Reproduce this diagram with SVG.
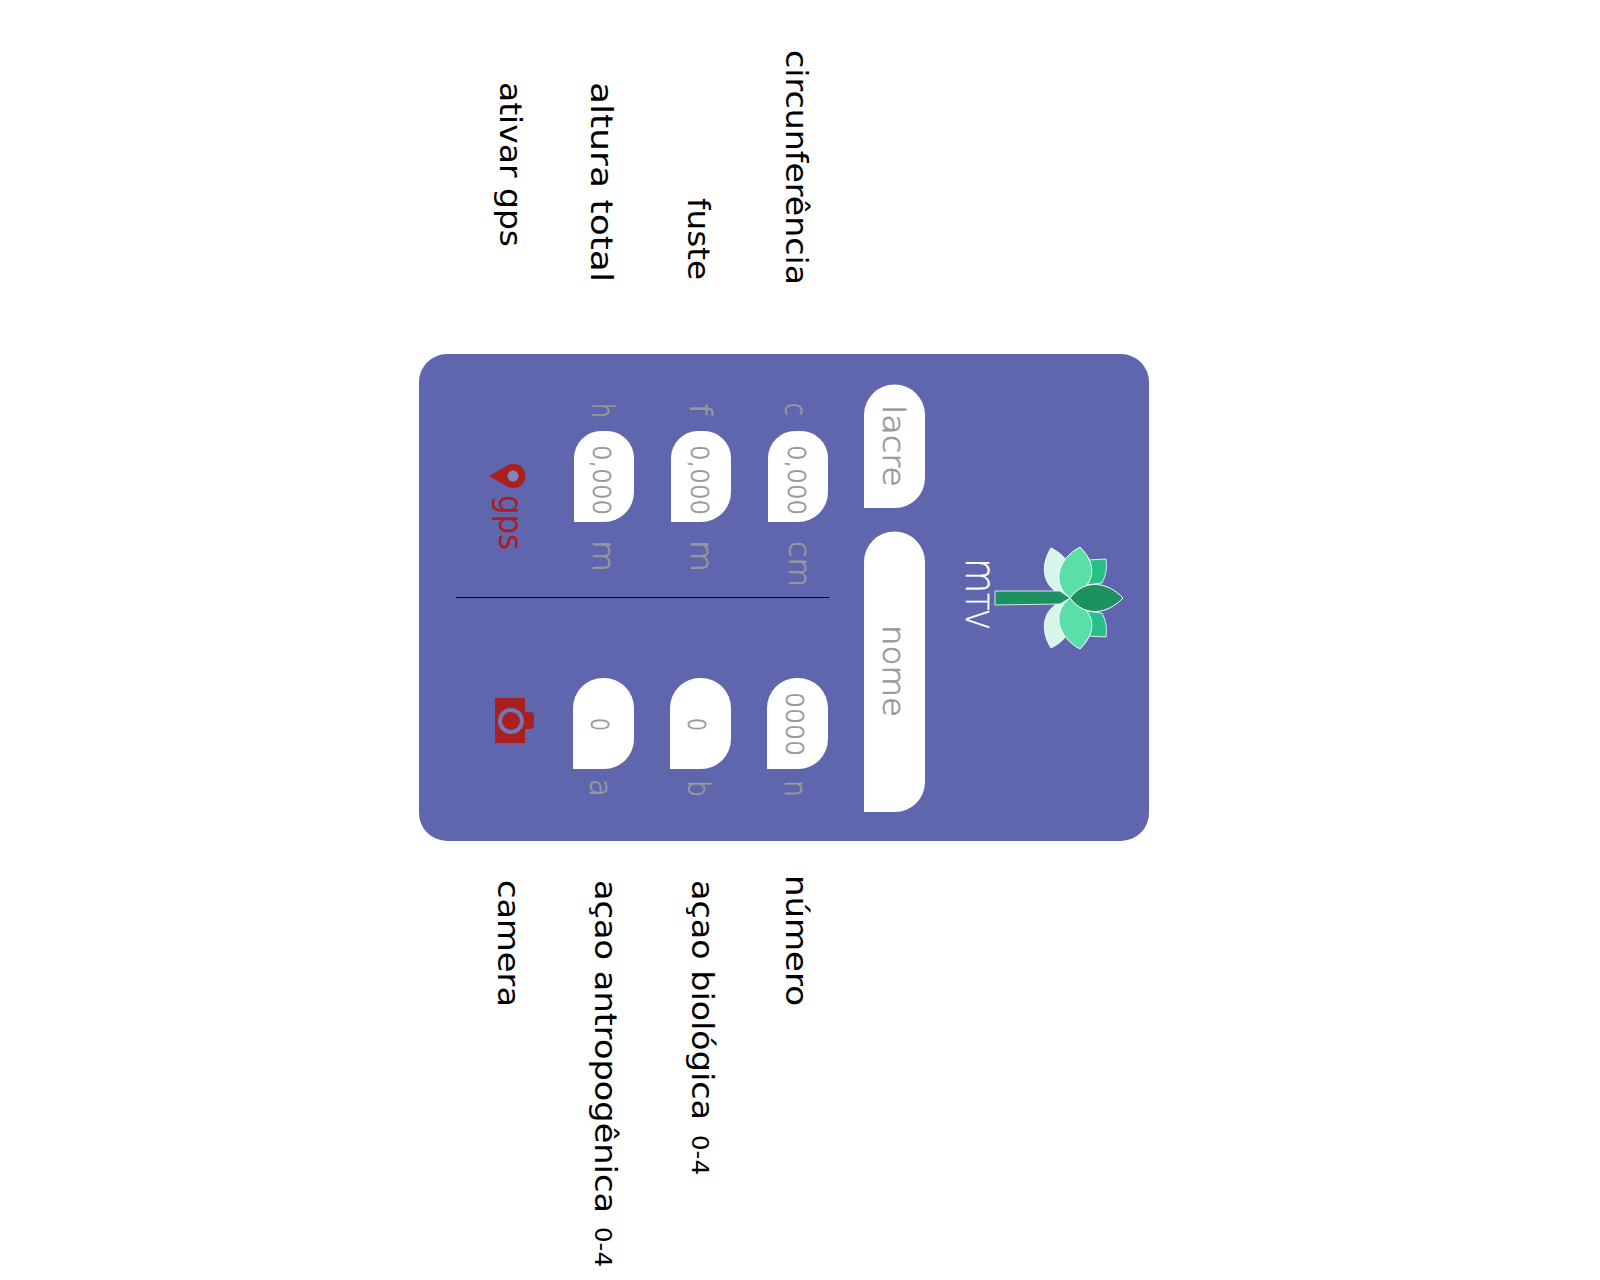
<svg xmlns="http://www.w3.org/2000/svg" width="1600" height="1280" viewBox="0 0 1600 1280">
<defs><style>
text{font-family:"DejaVu Sans","Noto Sans",sans-serif}
.lab{font-size:31px;fill:#000}
.sm{font-size:23px}
.g{font-size:30px;fill:#999;font-weight:200;stroke:#999;stroke-width:.7px}
.d{font-size:24px}
.box{fill:#fff}
</style></defs>
<rect width="1600" height="1280" fill="#fff"/>
<g id="card"><rect x="419" y="354" width="730" height="487" rx="28" fill="#5f66ae"/></g>
<g id="connectors"><line x1="456" y1="597.5" x2="829" y2="597.5" stroke="#000" stroke-width="1"/></g>
<g id="logo">
<path d="M1088 560 L1106 559 Q1108 572 1102 583 L1085 585Z" fill="#28c088" stroke="#fff" stroke-width=".8"/>
<path d="M1088 636 L1106 637 Q1108 624 1102 613 L1085 611Z" fill="#28c088" stroke="#fff" stroke-width=".8"/>
<path d="M1070 598 C1040 590 1040 565 1051 548 C1066 555 1078 570 1070 598Z" fill="#d8f5ea" stroke="#fff" stroke-width=".8"/>
<path d="M1070 598 C1040 606 1040 631 1051 648 C1066 641 1078 626 1070 598Z" fill="#d8f5ea" stroke="#fff" stroke-width=".8"/>
<path d="M1070 598 C1052 585 1056 560 1080 547 C1098 565 1096 585 1070 598Z" fill="#5bdfa8" stroke="#fff" stroke-width="1"/>
<path d="M1070 598 C1052 611 1056 636 1080 649 C1098 631 1096 611 1070 598Z" fill="#5bdfa8" stroke="#fff" stroke-width="1"/>
<path d="M995 591 L1060 591 L1070 598 L1060 604 L995 605Z" fill="#1e9160" stroke="#fff" stroke-width=".8"/>
<path d="M1070 598 C1085 578 1108 582 1123 598 C1108 614 1085 618 1070 598Z" fill="#1e9160" stroke="#fff" stroke-width="1"/>
<text transform="translate(966 558) rotate(90)" textLength="71" lengthAdjust="spacingAndGlyphs" style="font-size:32px;fill:#fff;font-weight:200;stroke:#fff;stroke-width:.4px"><tspan style="font-size:42px">m</tspan>TV</text>
</g>
<g id="lacre"><path class="box" d="M864 508V415a30 30 0 0 1 61 0V478a30 30 0 0 1-30 30Z"/><text class="g" transform="translate(883 405) rotate(90)" textLength="82" lengthAdjust="spacingAndGlyphs">lacre</text></g>
<g id="nome"><path class="box" d="M864 812V562a30 30 0 0 1 61 0V782a30 30 0 0 1-30 30Z"/><text class="g" transform="translate(883 625) rotate(90)" textLength="92" lengthAdjust="spacingAndGlyphs">nome</text></g>
<g id="c"><path class="box" d="M768 522V458a27 27 0 0 1 27-27h6a27 27 0 0 1 27 27V492a30 30 0 0 1-30 30Z"/>
<text class="g" transform="translate(785 403) rotate(90)" textLength="13" lengthAdjust="spacingAndGlyphs">c</text>
<text class="g d" transform="translate(788 445) rotate(90)" textLength="70" lengthAdjust="spacingAndGlyphs">0,000</text>
<text class="g" transform="translate(789 541) rotate(90)" textLength="46" lengthAdjust="spacingAndGlyphs">cm</text></g>
<g id="f"><path class="box" d="M671 522V458a27 27 0 0 1 27-27h6a27 27 0 0 1 27 27V492a30 30 0 0 1-30 30Z"/>
<text class="g" transform="translate(690 403) rotate(90)" textLength="13" lengthAdjust="spacingAndGlyphs">f</text>
<text class="g d" transform="translate(691 445) rotate(90)" textLength="70" lengthAdjust="spacingAndGlyphs">0,000</text>
<text class="g" transform="translate(691 540) rotate(90)" textLength="32" lengthAdjust="spacingAndGlyphs">m</text></g>
<g id="h"><path class="box" d="M574 522V458a27 27 0 0 1 27-27h6a27 27 0 0 1 27 27V492a30 30 0 0 1-30 30Z"/>
<text class="g" transform="translate(592 403) rotate(90)" textLength="15" lengthAdjust="spacingAndGlyphs">h</text>
<text class="g d" transform="translate(593 445) rotate(90)" textLength="70" lengthAdjust="spacingAndGlyphs">0,000</text>
<text class="g" transform="translate(593 540) rotate(90)" textLength="32" lengthAdjust="spacingAndGlyphs">m</text></g>
<g id="n"><path class="box" d="M767 769V708a30 30 0 0 1 30-30h1a30 30 0 0 1 30 30V739a30 30 0 0 1-30 30Z"/>
<text class="g d" transform="translate(786 692) rotate(90)" textLength="64" lengthAdjust="spacingAndGlyphs">0000</text>
<text class="g" transform="translate(785 780) rotate(90)" textLength="17" lengthAdjust="spacingAndGlyphs">n</text></g>
<g id="b"><path class="box" d="M670 769V708a30 30 0 0 1 30-30h1a30 30 0 0 1 30 30V739a30 30 0 0 1-30 30Z"/>
<text class="g d" transform="translate(688 718) rotate(90)" textLength="13" lengthAdjust="spacingAndGlyphs">0</text>
<text class="g" transform="translate(688 780) rotate(90)" textLength="17" lengthAdjust="spacingAndGlyphs">b</text></g>
<g id="a"><path class="box" d="M573 769V708a30 30 0 0 1 30-30h1a30 30 0 0 1 30 30V739a30 30 0 0 1-30 30Z"/>
<text class="g d" transform="translate(591 718) rotate(90)" textLength="13" lengthAdjust="spacingAndGlyphs">0</text>
<text class="g" transform="translate(590 779) rotate(90)" textLength="18" lengthAdjust="spacingAndGlyphs">a</text></g>
<g id="gps">
<path d="M489 476 L508 465 Q518 461 524 470 Q527 476 524 482 Q518 491 508 487Z" fill="#a8201f"/>
<circle cx="513" cy="476" r="5.5" fill="#7f86bd"/>
<text transform="translate(499 495) rotate(90)" textLength="55" lengthAdjust="spacingAndGlyphs" style="font-size:33px;fill:#a8201f">gps</text>
</g>
<g id="camera">
<rect x="495" y="698" width="30" height="45" fill="#a8201f"/>
<path d="M525 712h5a4 4 0 0 1 4 4v9a4 4 0 0 1-4 4h-5Z" fill="#a8201f"/>
<circle cx="511" cy="721" r="11" fill="#a8201f" stroke="#6f78b8" stroke-width="4"/>
</g>
<g id="labels">
<text class="lab" transform="translate(786 50) rotate(90)" textLength="235" lengthAdjust="spacingAndGlyphs">circunferência</text>
<text class="lab" transform="translate(688 198) rotate(90)" textLength="82" lengthAdjust="spacingAndGlyphs">fuste</text>
<text class="lab" transform="translate(591 82) rotate(90)" textLength="200" lengthAdjust="spacingAndGlyphs">altura total</text>
<text class="lab" transform="translate(500 82) rotate(90)" textLength="165" lengthAdjust="spacingAndGlyphs">ativar gps</text>
<text class="lab" transform="translate(786 875) rotate(90)" textLength="131" lengthAdjust="spacingAndGlyphs">número</text>
<text class="lab" transform="translate(692 880) rotate(90)" textLength="240" lengthAdjust="spacingAndGlyphs">açao biológica</text>
<text class="lab sm" transform="translate(692 1135) rotate(90)" textLength="40" lengthAdjust="spacingAndGlyphs">0-4</text>
<text class="lab" transform="translate(595 880) rotate(90)" textLength="333" lengthAdjust="spacingAndGlyphs">açao antropogênica</text>
<text class="lab sm" transform="translate(595 1227) rotate(90)" textLength="40" lengthAdjust="spacingAndGlyphs">0-4</text>
<text class="lab" transform="translate(498 880) rotate(90)" textLength="127" lengthAdjust="spacingAndGlyphs">camera</text>
</g>
</svg>
